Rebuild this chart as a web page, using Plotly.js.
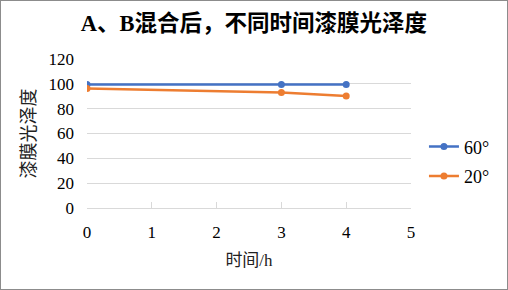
<!DOCTYPE html>
<html>
<head>
<meta charset="utf-8">
<script src="https://cdn.plot.ly/plotly-3.0.1.min.js"></script>
<style>
html,body{margin:0;padding:0;background:#fff;}
#wrap{width:508px;height:290px;box-sizing:border-box;border:1px solid #8c8c8c;}
#chart{width:506px;height:288px;}
</style>
</head>
<body>
<div id="wrap"><div id="chart"></div></div>
<script>
const hours = [0, 3, 4];
const gloss60 = [99.5, 99.5, 99.5];
const gloss20 = [96.3, 93, 90.3];
const seriesNames = ['60°', '20°'];
const xTicks = [0, 1, 2, 3, 4, 5];
const yTicks = [0, 20, 40, 60, 80, 100, 120];

const serif = 'Times New Roman, Liberation Serif, Noto Sans CJK SC, serif';

const traces = [
  {x: hours, y: gloss60, name: seriesNames[0], mode: 'lines+markers', legendgroup: 'a',
   line: {color: '#4472C4', width: 2.5}, marker: {color: '#4472C4', size: 7}},
  {x: hours, y: gloss20, name: seriesNames[1], mode: 'lines+markers', legendgroup: 'b',
   line: {color: '#ED7D31', width: 2.5}, marker: {color: '#ED7D31', size: 7}}
];

const layout = {
  width: 506, height: 288,
  font: {family: serif},
  margin: {l: 86, r: 94, t: 58, b: 81},
  paper_bgcolor: '#fff', plot_bgcolor: '#fff',
  title: {text: '<b>A、B混合后，不同时间漆膜光泽度</b>', x: 0.5, xanchor: 'center', y: 0.922, yanchor: 'middle',
          font: {family: serif, size: 22.5, color: '#000'}},
  xaxis: {range: [0, 5], tickvals: xTicks, ticktext: xTicks.map(String),
          showgrid: false, zeroline: false, showline: true, linecolor: '#d9d9d9', linewidth: 1,
          ticks: 'inside', ticklen: 6, tickcolor: '#d9d9d9',
          tickfont: {family: serif, size: 17, color: '#000'}, ticklabelstandoff: 9,
          title: {text: '时间/h', font: {family: serif, size: 17, color: '#222'}, standoff: 12}},
  yaxis: {range: [0, 120], tickvals: yTicks, ticktext: yTicks.map(String),
          showgrid: true, gridcolor: '#d9d9d9', gridwidth: 1, zeroline: false, showline: false,
          ticks: '', tickfont: {family: serif, size: 17, color: '#000'}, ticklabelstandoff: 12,
          title: {text: '漆膜光泽度', font: {family: serif, size: 18, color: '#222'}, standoff: 8}},
  showlegend: true,
  legend: {x: 1.04, xanchor: 'left', y: 0.535, yanchor: 'top', traceorder: 'grouped', tracegroupgap: 3,
           font: {family: serif, size: 18, color: '#000'}, bgcolor: 'rgba(0,0,0,0)'}
};

Plotly.newPlot('chart', traces, layout, {displayModeBar: false, staticPlot: true});
</script>
</body>
</html>
